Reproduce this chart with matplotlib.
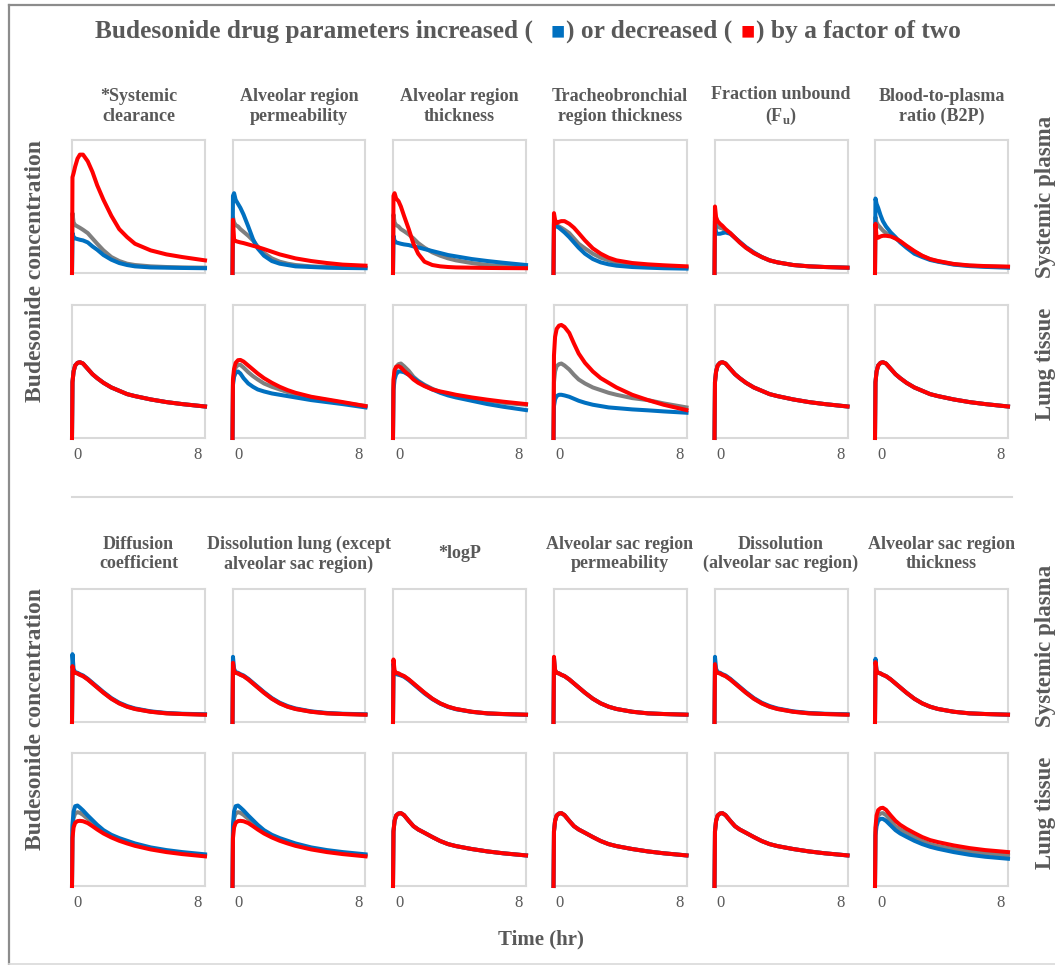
import matplotlib
matplotlib.use("Agg")
import matplotlib.pyplot as plt
from matplotlib.lines import Line2D

W, H, DPI = 1055, 965, 100

GRAY_TXT = "#595959"
C_BASE = "#7f7f7f"
C_UP = "#0070c0"
C_DOWN = "#ff0000"

# ---------------------------------------------------------------- data
# sampling times (hr) shared by every curve
TIME = [0, 0.03, 0.1, 0.2, 0.35, 0.5, 0.7, 1.0, 1.3, 1.6, 2.0, 2.5, 3.0,
        3.5, 4.0, 5.0, 6.0, 7.0, 8.45]
XTICKS = [0, 8]

TITLES_TOP = ["*Systemic\nclearance", "Alveolar region\npermeability",
              "Alveolar region\nthickness", "Tracheobronchial\nregion thickness",
              "Fraction unbound\n(F$_\\mathrm{u}$)", "Blood-to-plasma\nratio (B2P)"]
TITLES_BOTTOM = ["Diffusion\ncoefficient", "Dissolution lung (except\nalveolar sac region)",
                 "*logP", "Alveolar sac region\npermeability",
                 "Dissolution\n(alveolar sac region)", "Alveolar sac region\nthickness"]

# relative concentrations (0-100 of axis height); base / increased / decreased
# --- systemic plasma, upper block
clearance_plasma_base = [0, 45, 38, 36, 35, 34, 32.5, 30, 26, 22, 17, 12, 9, 7, 6, 5, 4.5, 4.2, 4]
clearance_plasma_up = [0, 30, 27, 26, 25.5, 25, 24.5, 23, 20, 17.5, 13.5, 10, 7.5, 6, 5, 4.2, 4, 3.8, 3.6]
clearance_plasma_down = [0, 72, 75, 80, 86, 89, 89, 84, 76, 66, 55, 43, 33, 27, 22, 17, 14, 12, 9.5]

alvperm_plasma_base = [0, 42, 38, 36, 35, 33, 31, 28, 24.5, 20, 15, 11, 8.5, 7, 6, 5, 4.5, 4.2, 4]
alvperm_plasma_up = [0, 58, 60, 55, 52, 49, 44, 35, 25.5, 18.5, 13, 9, 7, 6, 5, 4.5, 4, 3.8, 3.6]
alvperm_plasma_down = [0, 40, 25, 24, 23.5, 23, 22.5, 21.5, 20.5, 19.5, 18, 16, 14, 12.5, 11, 9, 7.5, 6.3, 5.5]

alvthick_plasma_base = [0, 44, 38, 36, 35, 33, 31.5, 29, 26, 22.5, 19, 15.5, 13, 11, 9.5, 7.5, 6, 5.2, 4.5]
alvthick_plasma_up = [0, 28, 24, 23, 22.5, 22, 21.5, 21, 20, 19.3, 18, 16.5, 15, 13.5, 12.5, 10.5, 9, 7.7, 6]
alvthick_plasma_down = [0, 58, 60, 56, 54, 50, 43, 33, 22, 14.5, 8.5, 6, 5, 4.5, 4.2, 4, 3.8, 3.7, 3.6]

tbthick_plasma_base = [0, 38, 37, 36, 35, 34, 32.5, 30, 26, 22, 18.5, 14.5, 11.5, 9.5, 8, 6.5, 5.5, 4.8, 4.2]
tbthick_plasma_up = [0, 37, 36, 35, 34, 32.5, 30.5, 27, 23, 19, 14.5, 10.5, 8, 6.5, 5.5, 4.5, 4, 3.6, 3.3]
tbthick_plasma_down = [0, 45, 40, 37.5, 38.5, 39, 39, 37, 34, 30, 24.5, 18.5, 14.5, 11.5, 9.5, 7.5, 6.5, 5.8, 5]

fu_plasma_base = [0, 42, 37, 35, 34, 33.5, 32, 30, 26.5, 23, 19, 15, 12, 9.5, 8, 6, 5, 4.5, 4]
fu_plasma_up = [0, 39, 30, 29.5, 29.5, 30, 30.5, 29.5, 26.5, 23.5, 19.5, 15.5, 12, 9.5, 8, 6, 5, 4.5, 4]
fu_plasma_down = [0, 50, 42, 39, 37, 35.5, 33, 30, 26.5, 23, 19, 15, 12, 9.5, 8, 6, 5, 4.5, 4]

b2p_plasma_base = [0, 42, 38, 36, 34, 32, 30, 28, 26, 23.5, 20, 16, 12.8, 10.3, 8.8, 6.6, 5.5, 5, 4.5]
b2p_plasma_up = [0, 56, 52, 49, 43.5, 39, 35, 30.5, 27, 23, 19, 14.5, 12, 9.8, 8.5, 6.3, 5.2, 4.6, 4]
b2p_plasma_down = [0, 37, 27, 26.5, 27.5, 28, 28, 27.5, 26, 24, 20.5, 16.5, 13, 10.5, 9, 6.8, 5.7, 5.2, 4.8]

# --- lung tissue, upper block
lung_base = [0, 42, 50, 54.5, 56.5, 57, 56, 52, 48, 45, 41.5, 38, 35.5, 33, 31.5, 29, 27, 25.5, 23.7]

alvperm_lung_base = [0, 42, 49, 53, 55, 55, 53, 49.5, 46.5, 44, 41, 38.5, 36.5, 34.5, 33, 30.5, 28.5, 26.5, 24]
alvperm_lung_up = [0, 40, 46, 49, 50, 48.5, 45, 41, 38.5, 36.5, 35, 33.5, 32.5, 31.5, 30.5, 28.5, 27, 25.5, 23]
alvperm_lung_down = [0, 44, 52, 56.5, 58.5, 58.7, 57.5, 54.5, 51.5, 48.5, 45, 41.5, 38.5, 36, 34, 31, 29, 27, 24]

alvthick_lung_base = [0, 40, 49, 53.5, 55.5, 56, 54, 50.5, 46, 43, 40, 37, 34.5, 32.8, 31.5, 29.5, 28, 26.5, 25]
alvthick_lung_up = [0, 36, 44, 48, 50, 50, 49.5, 47.5, 45, 42.5, 39.5, 36.5, 34, 32, 30.5, 28, 25.5, 23.5, 21]
alvthick_lung_down = [0, 44, 51, 53.5, 54, 53, 50.5, 47.5, 44, 41.5, 39, 36.5, 35, 33.8, 32.5, 30.5, 28.8, 27.3, 25.5]

tbthick_lung_base = [0, 42, 50, 54, 55.5, 56, 54.5, 51.5, 47.5, 44, 41, 38, 36, 34, 32.5, 30, 28.5, 26, 23]
tbthick_lung_up = [0, 24, 29, 31.5, 32.5, 32.5, 32, 31, 29.5, 28, 26.5, 25, 24, 23, 22.5, 21.5, 20.8, 20, 19]
tbthick_lung_down = [0, 62, 76, 82, 84.5, 85, 83.5, 79, 71, 63.5, 56.5, 50, 45, 41.5, 38, 32.5, 28.5, 25, 21]

# --- systemic plasma, lower block
plasma2_base = [0, 38, 37.5, 37, 36.5, 35.5, 34.5, 32, 29, 26, 22, 17.5, 14, 11.5, 9.8, 7.7, 6.5, 6, 5.5]

diff_plasma_up = [0, 51, 40, 37.5, 37, 36, 35, 32.5, 29.5, 26.5, 22.5, 18, 14.5, 12, 10.2, 8, 6.8, 6.2, 5.8]
diff_plasma_down = [0, 42, 38, 37, 36.5, 35.5, 34.5, 32, 29, 26, 22, 17.5, 14, 11.5, 9.8, 7.7, 6.5, 6, 5.5]

dissl_plasma_up = [0, 49, 40, 37.5, 37, 36, 35, 32.5, 29.5, 26.5, 22.5, 18, 14.5, 12, 10.2, 8, 6.8, 6.2, 5.8]
dissl_plasma_down = [0, 44.5, 38, 37, 36.5, 35.5, 34.5, 32, 29, 26, 22, 17.5, 14, 11.5, 9.8, 7.7, 6.5, 6, 5.5]

logp_plasma_up = [0, 44, 36.5, 36, 35.5, 35, 34, 31.5, 28.5, 25.5, 21.5, 17.2, 13.8, 11.3, 9.6, 7.6, 6.4, 5.9, 5.4]
logp_plasma_down = [0, 47, 38.5, 37, 36.5, 35.5, 34.5, 32, 29, 26, 22, 17.5, 14, 11.5, 9.8, 7.7, 6.5, 6, 5.5]

sacperm_plasma_up = [0, 48, 39, 37, 36.5, 35.5, 34.5, 32, 29, 26, 22, 17.5, 14, 11.5, 9.8, 7.7, 6.5, 6, 5.5]
sacperm_plasma_down = [0, 49, 39, 37, 36.5, 35.5, 34.5, 32, 29, 26, 22, 17.5, 14, 11.5, 9.8, 7.7, 6.5, 6, 5.5]

sacdiss_plasma_up = [0, 49, 40, 37.5, 37, 36, 35, 32.5, 29.5, 26.5, 22.5, 18, 14.5, 12, 10.2, 8, 6.8, 6.2, 5.8]
sacdiss_plasma_down = [0, 43.5, 38, 37, 36.5, 35.5, 34.5, 32, 29, 26, 22, 17.5, 14, 11.5, 9.8, 7.7, 6.5, 6, 5.5]

sacthick_plasma_up = [0, 47.5, 39, 37, 36.5, 35.5, 34.5, 32, 29, 26, 22, 17.5, 14, 11.5, 9.8, 7.7, 6.5, 6, 5.5]
sacthick_plasma_down = [0, 45, 38.5, 37, 36.5, 35.5, 34.5, 32, 29, 26, 22, 17.5, 14, 11.5, 9.8, 7.7, 6.5, 6, 5.5]

# --- lung tissue, lower block
lung2_base = [0, 41, 49, 53, 54.5, 54.8, 53.3, 49, 45, 42.5, 40, 36.8, 33.8, 31.5, 30, 27.8, 26, 24.6, 23]

diff_lung_base = [0, 42, 51, 54.5, 55.5, 55, 53.5, 50.5, 47.5, 44.5, 41, 37.5, 35, 33, 31.2, 28.3, 26.3, 24.8, 23]
diff_lung_up = [0, 46, 56, 60, 60.5, 59, 56.8, 53, 49.5, 46, 42, 38.5, 36, 34, 32, 29, 27, 25.5, 23.8]
diff_lung_down = [0, 36, 44, 47.5, 48.8, 49, 48.7, 47.3, 45, 42.5, 39.5, 36.5, 34, 32, 30.2, 27.5, 25.5, 24, 22.3]

sacthick_lung_up = [0, 38, 45, 49, 50.5, 50.5, 49, 45.5, 42, 39.5, 37, 34, 31.5, 29.5, 28, 25.5, 23.5, 22, 20.5]
sacthick_lung_down = [0, 44, 53, 57, 58.5, 58.8, 57.3, 53, 49, 46, 43, 39.8, 36.8, 34.5, 33, 30.5, 28.5, 27, 25.5]

# panel table: (base, increased, decreased) for each row of panels
ROWS = [
    [(clearance_plasma_base, clearance_plasma_up, clearance_plasma_down),
     (alvperm_plasma_base, alvperm_plasma_up, alvperm_plasma_down),
     (alvthick_plasma_base, alvthick_plasma_up, alvthick_plasma_down),
     (tbthick_plasma_base, tbthick_plasma_up, tbthick_plasma_down),
     (fu_plasma_base, fu_plasma_up, fu_plasma_down),
     (b2p_plasma_base, b2p_plasma_up, b2p_plasma_down)],
    [(lung_base, lung_base, lung_base),
     (alvperm_lung_base, alvperm_lung_up, alvperm_lung_down),
     (alvthick_lung_base, alvthick_lung_up, alvthick_lung_down),
     (tbthick_lung_base, tbthick_lung_up, tbthick_lung_down),
     (lung_base, lung_base, lung_base),
     (lung_base, lung_base, lung_base)],
    [(plasma2_base, diff_plasma_up, diff_plasma_down),
     (plasma2_base, dissl_plasma_up, dissl_plasma_down),
     (plasma2_base, logp_plasma_up, logp_plasma_down),
     (plasma2_base, sacperm_plasma_up, sacperm_plasma_down),
     (plasma2_base, sacdiss_plasma_up, sacdiss_plasma_down),
     (plasma2_base, sacthick_plasma_up, sacthick_plasma_down)],
    [(diff_lung_base, diff_lung_up, diff_lung_down),
     (diff_lung_base, diff_lung_up, diff_lung_down),
     (lung2_base, lung2_base, lung2_base),
     (lung2_base, lung2_base, lung2_base),
     (lung2_base, lung2_base, lung2_base),
     (lung2_base, sacthick_lung_up, sacthick_lung_down)],
]

# ---------------------------------------------------------------- layout
plt.rcParams["font.family"] = ["Liberation Serif", "DejaVu Serif"]
plt.rcParams["mathtext.fontset"] = "custom"
plt.rcParams["mathtext.rm"] = "Liberation Serif:bold"

COL_LEFT = [72, 232.5, 393, 553.5, 714.5, 875]
ROW_TOP = [140, 305, 589, 753]
PW, PH = 133, 133

fig = plt.figure(figsize=(W / DPI, H / DPI), dpi=DPI)


def fx(px):
    return px / W


def fy(py):
    return 1 - py / H


for r, row in enumerate(ROWS):
    for c, (base, up, down) in enumerate(row):
        ax = fig.add_axes([fx(COL_LEFT[c]), fy(ROW_TOP[r] + PH), PW / W, PH / H])
        ax.plot(TIME, base, color=C_BASE, lw=2.9, solid_joinstyle="round", clip_on=False)
        ax.plot(TIME, up, color=C_UP, lw=2.9, solid_joinstyle="round", clip_on=False)
        ax.plot(TIME, down, color=C_DOWN, lw=2.9, solid_joinstyle="round", clip_on=False)
        ax.set_xlim(0, 8.45)
        ax.set_ylim(0, 100)
        ax.set_xticks([])
        ax.set_yticks([])
        for sp in ax.spines.values():
            sp.set_color("#d9d9d9")
            sp.set_linewidth(1.5)
            sp.set_zorder(0)
        if r in (1, 3):
            for t in XTICKS:
                off = 6 if t == 0 else 0
                ax.annotate(str(t), xy=(t, 0), xycoords=("data", "axes fraction"),
                            xytext=(off * 72 / DPI, -17 * 72 / DPI),
                            textcoords="offset points", ha="center", va="center",
                            fontsize=12, color=GRAY_TXT)

# column titles
for titles, yc in ((TITLES_TOP, 106.5), (TITLES_BOTTOM, 554)):
    for c, t in enumerate(titles):
        fig.text(fx(COL_LEFT[c] + PW / 2), fy(yc), t, ha="center", va="center",
                 fontsize=13, fontweight="bold", color=GRAY_TXT, linespacing=1.2)

# row labels
for yc in (271, 719):
    fig.text(fx(36), fy(yc), "Budesonide concentration", rotation=90,
             ha="center", va="center", fontsize=17, fontweight="bold", color=GRAY_TXT)
for yc, lab in ((197, "Systemic plasma"), (364, "Lung tissue"),
                (646, "Systemic plasma"), (813, "Lung tissue")):
    fig.text(fx(1045), fy(yc), lab, rotation=90, ha="center", va="center",
             fontsize=16.5, fontweight="bold", color=GRAY_TXT)

fig.text(fx(541), fy(939), "Time (hr)", ha="center", va="center",
         fontsize=15, fontweight="bold", color=GRAY_TXT)

# separator between the two groups
fig.add_artist(Line2D([fx(72), fx(1012)], [fy(497), fy(497)], color="#d9d9d9", lw=1.5))

# outer frame
fig.add_artist(Line2D([fx(8.5), fx(1055)], [fy(4.5), fy(4.5)], color="#8c8c8c", lw=1.6))
fig.add_artist(Line2D([fx(8.5), fx(8.5)], [fy(4.5), fy(963.5)], color="#8c8c8c", lw=1.6))
fig.add_artist(Line2D([fx(8.5), fx(1055)], [fy(963.5), fy(963.5)], color="#d9d9d9", lw=1.2))

# title with colour keys
renderer = fig.canvas.get_renderer()
segments = [("Budesonide drug parameters increased (", GRAY_TXT, 0),
            ("\u25a0", C_UP, 18),
            (") or decreased (", GRAY_TXT, 0),
            ("\u25a0", C_DOWN, 8),
            (") by a factor of two", GRAY_TXT, 0)]
x = 95
for txt, col, gap in segments:
    x += gap
    is_key = txt == "\u25a0"
    t = fig.text(fx(x), fy(38), txt, ha="left", va="baseline",
                 fontsize=17 if is_key else 18.3, fontweight="bold", color=col,
                 family=["Liberation Serif", "DejaVu Sans"])
    x += t.get_window_extent(renderer=renderer).width + (1 if is_key else 0)

fig.savefig("out.png", dpi=DPI)
